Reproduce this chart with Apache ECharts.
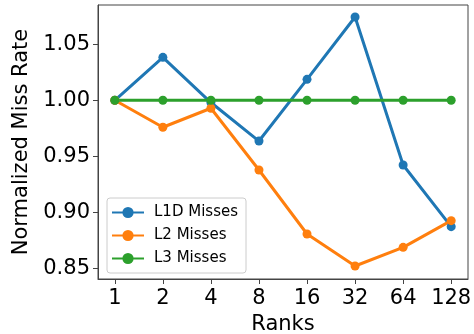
<!DOCTYPE html>
<html>
<head>
<meta charset="utf-8">
<script src="https://cdn.jsdelivr.net/npm/echarts@6/dist/echarts.min.js"></script>
<style>
  html, body { margin: 0; padding: 0; background: #fff; }
  #chart { width: 474px; height: 334px; }
</style>
</head>
<body>
<div id="chart"></div>
<script>
// Rank counts along the x axis
const ranks = ['1', '2', '4', '8', '16', '32', '64', '128'];

// Miss rates normalized to the single-rank run
const l1dMisses = [1.000, 1.0383, 0.998, 0.9637, 1.0187, 1.0742, 0.9424, 0.8874];
const l2Misses  = [1.000, 0.976, 0.9929, 0.9379, 0.8809, 0.8524, 0.869, 0.8928];
const l3Misses  = [1.000, 1.000, 1.000, 1.000, 1.000, 1.000, 1.000, 1.000];

// Y tick values
const yTicks = [0.85, 0.90, 0.95, 1.00, 1.05];

const colors = ['#1f77b4', '#ff7f0e', '#2ca02c'];
const fontFamily = 'DejaVu Sans';
const xIdx = ranks.map((_, i) => i);

function pairs(values) {
  return values.map((v, i) => [i, v]);
}

function lineSeries(name, values, color) {
  return {
    name: name,
    type: 'line',
    data: pairs(values),
    symbol: 'circle',
    symbolSize: 9,
    lineStyle: { width: 3, color: color },
    itemStyle: { color: color },
    emphasis: { disabled: true },
    animation: false
  };
}

const chart = echarts.init(document.getElementById('chart'));
chart.setOption({
  animation: false,
  color: colors,
  grid: { left: 98, right: 6, top: 5, bottom: 55, containLabel: false, outerBoundsMode: 'none' },
  xAxis: {
    type: 'value',
    min: -0.35,
    max: 7.35,
    name: 'Ranks',
    nameLocation: 'middle',
    nameGap: 32,
    nameTextStyle: { fontFamily: fontFamily, fontSize: 21, color: '#000' },
    axisLine: { show: true, onZero: false, lineStyle: { color: '#444', width: 1 } },
    axisTick: { show: true, length: 5, lineStyle: { color: '#444' }, customValues: xIdx },
    axisLabel: {
      fontFamily: fontFamily, fontSize: 21, color: '#000', margin: 9,
      customValues: xIdx,
      formatter: v => ranks[Math.round(v)]
    },
    splitLine: { show: false }
  },
  yAxis: {
    type: 'value',
    min: 0.8408,
    max: 1.0849,
    name: 'Normalized Miss Rate',
    nameLocation: 'middle',
    nameGap: 60,
    nameTextStyle: { fontFamily: fontFamily, fontSize: 21, color: '#000' },
    axisLine: { show: true, onZero: false, lineStyle: { color: '#444', width: 1 } },
    axisTick: { show: true, length: 5, lineStyle: { color: '#444' }, customValues: yTicks },
    axisLabel: {
      fontFamily: fontFamily, fontSize: 21, color: '#000', margin: 8,
      customValues: yTicks,
      formatter: v => v.toFixed(2)
    },
    splitLine: { show: false }
  },
  legend: {
    orient: 'vertical',
    left: 107,
    top: 198,
    padding: [7, 8, 7, 4],
    itemGap: 8,
    itemWidth: 32,
    itemHeight: 14,
    borderColor: '#ccc',
    borderWidth: 1,
    borderRadius: 3,
    backgroundColor: 'rgba(255,255,255,0.8)',
    textStyle: { fontFamily: fontFamily, fontSize: 15, color: '#000', padding: [0, 0, 0, 5] },
    data: ['L1D Misses', 'L2 Misses', 'L3 Misses']
  },
  series: [
    lineSeries('L1D Misses', l1dMisses, colors[0]),
    lineSeries('L2 Misses', l2Misses, colors[1]),
    lineSeries('L3 Misses', l3Misses, colors[2])
  ]
});
// draw the right and top frame lines of the plot box
const gridRect = chart.getModel().getComponent('grid').coordinateSystem.getRect();
chart.setOption({
  graphic: [{
    type: 'rect',
    shape: { x: gridRect.x, y: gridRect.y, width: gridRect.width, height: gridRect.height },
    style: { fill: 'none', stroke: '#444', lineWidth: 1 },
    silent: true,
    z: 0
  }]
});
</script>
</body>
</html>
